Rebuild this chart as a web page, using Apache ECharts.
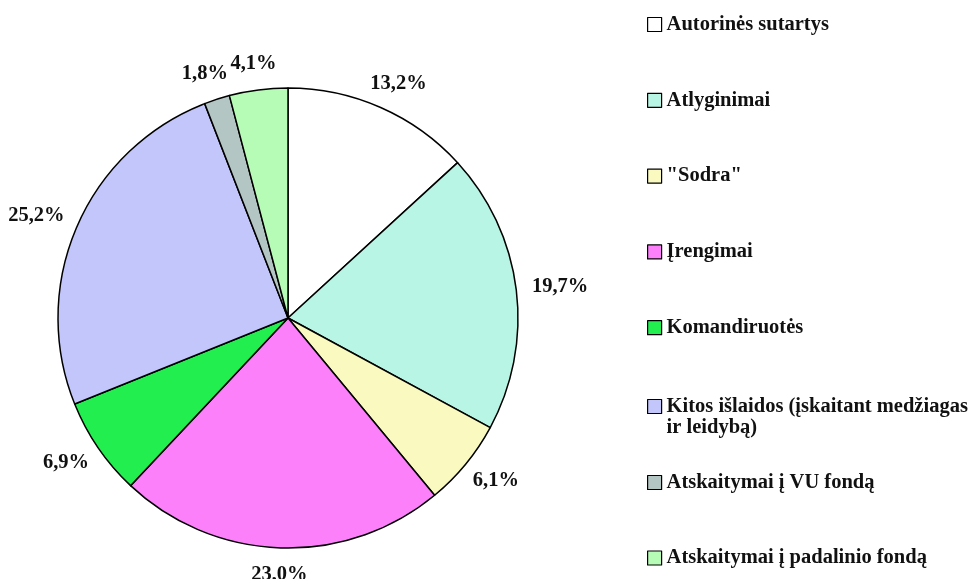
<!DOCTYPE html>
<html>
<head>
<meta charset="utf-8">
<script src="https://cdn.jsdelivr.net/npm/echarts@6/dist/echarts.min.js"></script>
<style>
  html, body { margin: 0; padding: 0; background: #fff; }
  #chart { width: 976px; height: 579px; }
</style>
</head>
<body>
<div id="chart"></div>
<script>
// kategorijos ir jų dalys (%)
const categories = [
  'Autorinės sutartys',
  'Atlyginimai',
  '"Sodra"',
  'Įrengimai',
  'Komandiruotės',
  'Kitos išlaidos (įskaitant medžiagas ir leidybą)',
  'Atskaitymai į VU fondą',
  'Atskaitymai į padalinio fondą'
];
const shares = [13.2, 19.7, 6.1, 23.0, 6.9, 25.2, 1.8, 4.1];
const colors = ['#ffffff', '#b8f5e4', '#fafac0', '#fb80fa', '#22ee50', '#c3c6fa', '#b4c6c4', '#b6fcb6'];

const font = '"Liberation Serif", "Times New Roman", serif';
const fontSize = 20.5;

let myChart = echarts.init(document.getElementById('chart'));

const legendText = {
  fontFamily: font,
  fontWeight: 'bold',
  fontSize: fontSize,
  color: '#111'
};

// bendri legendos nustatymai
function legendBox(top, gap, items, formatter) {
  return {
    orient: 'vertical',
    left: 647,
    top: top,
    padding: 0,
    itemWidth: 14,
    itemHeight: 14,
    itemGap: gap,
    icon: 'rect',
    itemStyle: { borderColor: '#000', borderWidth: 1.2 },
    textStyle: legendText,
    formatter: formatter,
    data: items
  };
}

// etiketė už skritulio krašto, pagal sektoriaus vidurio kampą
function placeLabel(params) {
  const data = myChart.getModel().getSeriesByIndex(0).getData();
  const lay = data.getItemLayout(params.dataIndex);
  const mid = (lay.startAngle + lay.endAngle) / 2;
  const dx = Math.cos(mid), dy = Math.sin(mid);
  const w = params.labelRect.width, h = params.labelRect.height;
  const g = 16;
  return {
    x: lay.cx + (lay.r + g) * dx + dx * w / 2,
    y: lay.cy + (lay.r + g) * dy + dy * h / 2,
    align: 'center',
    verticalAlign: 'middle'
  };
}

let option = {
  color: colors,
  animation: false,
  legend: [
    legendBox(14, 54.8, categories.slice(0, 5)),
    // ilgas pavadinimas - dviem eilutėm, žymeklis prie pirmos eilutės
    legendBox(375, 0, [categories[5]], function () {
      return ' \nKitos išlaidos (įskaitant medžiagas\nir leidybą)';
    }),
    legendBox(472, 54.5, categories.slice(6))
  ],
  series: [
    {
      type: 'pie',
      center: [288, 318],
      radius: 230,
      startAngle: 90,
      clockwise: true,
      avoidLabelOverlap: false,
      itemStyle: { borderColor: '#000', borderWidth: 1.5 },
      label: {
        show: true,
        position: 'outside',
        fontFamily: font,
        fontWeight: 'bold',
        fontSize: fontSize,
        color: '#111',
        formatter: function (p) {
          return p.value.toFixed(1).replace('.', ',') + '%';
        }
      },
      labelLine: { show: false, length: 14, length2: 0 },
      labelLayout: placeLabel,
      emphasis: { disabled: true },
      data: categories.map(function (c, i) {
        return { name: c, value: shares[i] };
      })
    }
  ]
};

myChart.setOption(option);
</script>
</body>
</html>
